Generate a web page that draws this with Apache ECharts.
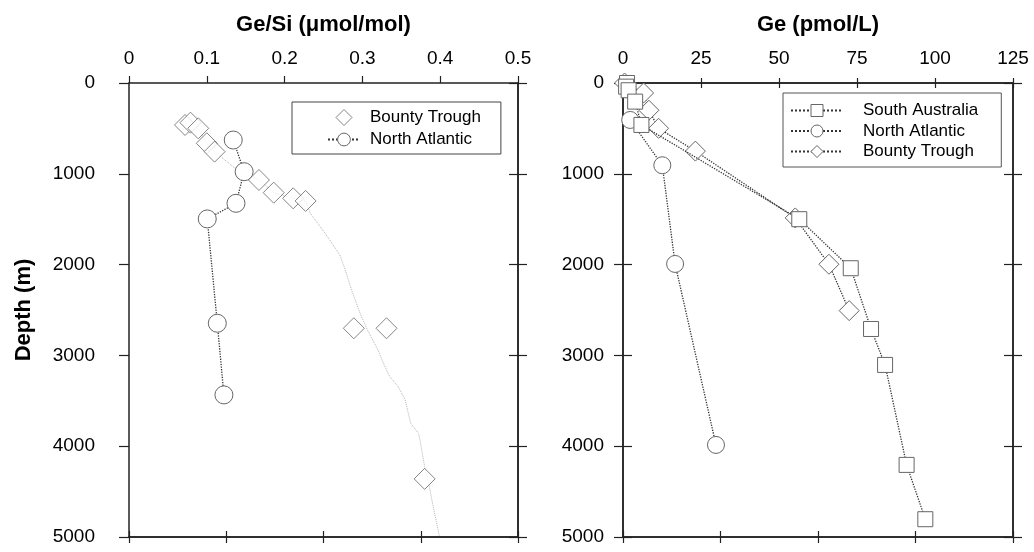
<!DOCTYPE html>
<html>
<head>
<meta charset="utf-8">
<script src="https://cdn.jsdelivr.net/npm/echarts@6/dist/echarts.min.js"></script>
<style>
  html, body { margin: 0; padding: 0; background: #fff; }
  #chart { width: 1034px; height: 552px; }
</style>
</head>
<body>
<div id="chart"></div>
<script>
// 刻度
const geSiTicks = [0, 0.1, 0.2, 0.3, 0.4, 0.5]
const geTicks = [0, 25, 50, 75, 100, 125]
const depthTicks = [0, 1000, 2000, 3000, 4000, 5000]
const quarterTicks = [0, 0.25, 0.5, 0.75, 1]

// 左图 Ge/Si - Bounty Trough（只画点）
const btGeSi = [0.072, 0.079, 0.089, 0.100, 0.110, 0.167, 0.186, 0.211, 0.227, 0.289, 0.331, 0.380]
const btGeSiDepth = [462, 437, 499, 664, 756, 1068, 1208, 1270, 1299, 2701, 2701, 4360]

// 左图 Ge/Si - North Atlantic
const naGeSi = [0.134, 0.148, 0.1375, 0.1006, 0.1135, 0.122]
const naGeSiDepth = [628, 977, 1325, 1497, 2646, 3435]

// 左图 灰色剖面线（无图例）
const curveGeSi = [0.072, 0.089, 0.100, 0.110, 0.135, 0.167, 0.186, 0.211, 0.227, 0.233, 0.249, 0.258,
  0.271, 0.278, 0.286, 0.297, 0.306, 0.320, 0.327, 0.335, 0.346, 0.355, 0.362, 0.372, 0.374,
  0.380, 0.386, 0.391, 0.399]
const curveDepth = [462, 499, 664, 756, 930, 1068, 1208, 1270, 1299, 1435, 1619, 1729,
  1894, 2059, 2279, 2536, 2712, 2940, 3086, 3233, 3344, 3490, 3747, 3857, 3931,
  4225, 4445, 4665, 4995]

// 右图 Ge (pmol/L)
const saGe = [1.3, 1.0, 1.8, 3.9, 5.9, 56.5, 73.0, 79.5, 84.0, 90.9, 96.9]
const saDepth = [0, 40, 80, 205, 462, 1500, 2040, 2709, 3105, 4206, 4804]
const naGe = [2.3, 12.6, 16.7, 29.8]
const naDepth = [407, 906, 1993, 3986]
const btGe = [0.5, 6.6, 8.3, 11.4, 23.2, 55.2, 66.0, 72.5]
const btDepth = [0, 110, 300, 499, 750, 1486, 1996, 2507]

const FONT = '"Liberation Sans", Arial, sans-serif'
const INK = '#222'
const MARK = '#666'

const pairs = (xs, ys) => xs.map((x, i) => [x, ys[i]])

// 通用坐标轴
const axis = (gridIndex, position, ticks, o = {}) => ({
  type: 'value',
  gridIndex,
  position,
  min: ticks[0],
  max: ticks[ticks.length - 1],
  interval: ticks[1] - ticks[0],
  inverse: position === 'left' || position === 'right',
  axisLine: {show: true, onZero: false, lineStyle: {color: INK, width: 1.5}},
  axisTick: {show: true, inside: !!o.inside, length: o.tick || 7, lineStyle: {color: INK, width: 1.2}},
  axisLabel: o.label
    ? {show: true, margin: o.margin, color: '#000', fontFamily: FONT, fontSize: 19,
       formatter: v => String(+v.toFixed(4)),
       showMinLabel: true, showMaxLabel: true, hideOverlap: false}
    : {show: false},
  splitLine: {show: false},
  name: o.name || '',
  nameLocation: 'middle',
  nameGap: o.nameGap || 0,
  nameRotate: o.nameRotate,
  nameTextStyle: {color: '#000', fontFamily: FONT, fontSize: 22, fontWeight: 'bold'}
})

const hollow = {color: '#fff', borderColor: MARK, borderWidth: 1}
const dotted = {color: '#333', width: 1.3, type: 'dotted'}

const rightNames = {
  'South Australia': 'South Australia',
  'North Atlantic (Ge)': 'North Atlantic',
  'Bounty Trough (Ge)': 'Bounty Trough'
}

const chart = echarts.init(document.getElementById('chart'), null, {renderer: 'canvas'})
chart.setOption({
  animation: false,
  backgroundColor: '#fff',
  grid: [
    {left: 129, top: 83, width: 389, height: 454, outerBoundsMode: 'none', containLabel: false},
    {left: 623, top: 83, width: 390, height: 454, outerBoundsMode: 'none', containLabel: false}
  ],
  xAxis: [
    axis(0, 'top', geSiTicks, {label: true, margin: 15, name: 'Ge/Si (μmol/mol)', nameGap: 47}),
    axis(0, 'bottom', quarterTicks, {tick: 6}),
    axis(0, 'bottom', quarterTicks, {tick: 6, inside: true}),
    axis(1, 'top', geTicks, {label: true, margin: 15, name: 'Ge (pmol/L)', nameGap: 47, tick: 5}),
    axis(1, 'top', geTicks, {tick: 5, inside: true}),
    axis(1, 'bottom', quarterTicks, {tick: 6}),
    axis(1, 'bottom', quarterTicks, {tick: 6, inside: true})
  ],
  yAxis: [
    axis(0, 'left', depthTicks, {label: true, margin: 34, tick: 10, name: 'Depth (m)', nameGap: 94}),
    axis(0, 'right', depthTicks, {tick: 9}),
    axis(0, 'right', depthTicks, {tick: 9, inside: true}),
    axis(1, 'left', depthTicks, {label: true, margin: 19, tick: 9}),
    axis(1, 'left', depthTicks, {tick: 9, inside: true}),
    axis(1, 'right', depthTicks, {tick: 9}),
    axis(1, 'right', depthTicks, {tick: 9, inside: true})
  ],
  legend: [
    {
      data: [
        {name: 'Bounty Trough', icon: 'path://M8,0L16,8L8,16L0,8Z'},
        'North Atlantic'
      ],
      orient: 'vertical',
      left: 292, top: 102,
      padding: [7, 20, 6, 35],
      itemWidth: 32, itemHeight: 16, itemGap: 5,
      symbolKeepAspect: true,
      backgroundColor: '#fff', borderColor: '#444', borderWidth: 1,
      itemStyle: {borderWidth: 1},
      textStyle: {color: '#000', fontFamily: FONT, fontSize: 17, padding: [0, 0, 0, 5]},
      selectedMode: false
    },
    {
      data: ['South Australia', 'North Atlantic (Ge)', 'Bounty Trough (Ge)'],
      formatter: n => rightNames[n],
      orient: 'vertical',
      left: 783, top: 93,
      padding: [9, 23, 7, 7],
      itemWidth: 52, itemHeight: 15, itemGap: 3.5,
      backgroundColor: '#fff', borderColor: '#555', borderWidth: 1,
      itemStyle: {borderWidth: 1},
      textStyle: {color: '#000', fontFamily: FONT, fontSize: 17, padding: [0, 0, 0, 15]},
      selectedMode: false
    }
  ],
  series: [
    {
      name: 'profile', type: 'line', xAxisIndex: 0, yAxisIndex: 0,
      data: pairs(curveGeSi, curveDepth), showSymbol: false, silent: true, z: 1,
      lineStyle: {color: '#b4b4b4', width: 1, type: 'dotted'}
    },
    {
      name: 'North Atlantic', type: 'line', xAxisIndex: 0, yAxisIndex: 0,
      data: pairs(naGeSi, naGeSiDepth), symbol: 'circle', symbolSize: 18, z: 3,
      itemStyle: hollow, lineStyle: dotted
    },
    {
      name: 'Bounty Trough', type: 'scatter', xAxisIndex: 0, yAxisIndex: 0,
      data: pairs(btGeSi, btGeSiDepth), symbol: 'diamond', symbolSize: 21, z: 4,
      itemStyle: hollow
    },
    {
      name: 'North Atlantic (Ge)', type: 'line', xAxisIndex: 3, yAxisIndex: 3,
      data: pairs(naGe, naDepth), symbol: 'circle', symbolSize: 17, z: 3,
      itemStyle: hollow, lineStyle: dotted
    },
    {
      name: 'Bounty Trough (Ge)', type: 'line', xAxisIndex: 3, yAxisIndex: 3,
      data: pairs(btGe, btDepth), symbol: 'diamond', symbolSize: 20, z: 4,
      itemStyle: hollow, lineStyle: dotted
    },
    {
      name: 'South Australia', type: 'line', xAxisIndex: 3, yAxisIndex: 3,
      data: pairs(saGe, saDepth), symbol: 'rect', symbolSize: 15, z: 5,
      itemStyle: hollow, lineStyle: dotted
    }
  ]
})
</script>
</body>
</html>
